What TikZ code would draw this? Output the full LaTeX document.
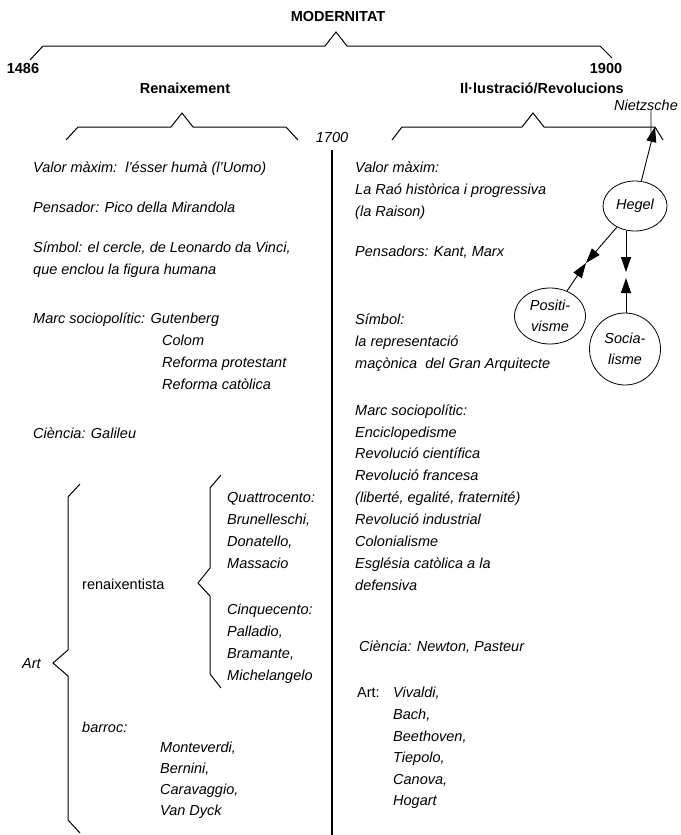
\documentclass[tikz,border=0pt]{standalone}
\usepackage{fontspec}
\setmainfont{Liberation Sans}
\usetikzlibrary{arrows.meta,shapes.geometric,calc}
\tikzset{
  base/.style={inner sep=0pt, font=\fontsize{14.5}{21}\selectfont},
  txt/.style={base, anchor=base west, font=\fontsize{14.5}{21}\selectfont\itshape},
  rom/.style={base, anchor=base west},
  hdr/.style={base, anchor=base, font=\fontsize{14.5}{21}\selectfont\bfseries},
  brace/.style={line width=1pt, line join=miter, line cap=butt},
  ell/.style={ellipse, draw, line width=0.8pt, inner sep=0pt, align=center,
     font=\fontsize{14.5}{21}\selectfont\itshape},
  arr/.style={line width=0.9pt, -{Triangle[length=15pt,width=10pt]}},
  vline/.style={line width=1.1pt}
}
\begin{document}
\begin{tikzpicture}[x=1pt,y=-1pt]
\fill[white] (0,0) rectangle (680,835);
\useasboundingbox (0,0) rectangle (680,835);

% headers
\node[hdr] (modern) at (338,21) {MODERNITAT};
\node[hdr] (y1486) at (23,73) {1486};
\node[hdr] (y1900) at (606,73) {1900};
\node[hdr] (renaix) at (185,93) {Renaixement};
\node[hdr] (illus) at (542,93) {Il·lustració/Revolucions};
\node[base, anchor=base, font=\fontsize{14.5}{21}\selectfont\itshape] (y1700) at (332,142) {1700};
\node[txt] (nietz) at (614,110) {Nietzsche};

% braces
\draw[brace] (30,60) -- (43,46) -- (325,46) -- (336,32) -- (347,46) -- (600,46) -- (612,58);
\draw[brace] (66,140) -- (78,127) -- (171,127) -- (182,113) -- (193,127) -- (286,127) -- (298,140);
\coordinate (nz) at (655,127);
\draw[brace] (392,140) -- (402,127) -- (522,127) -- (533,113) -- (544,127) -- (nz) -- (663,140);
\coordinate (nzb) at (651,139);
\draw[line width=0.8pt] ([xshift=5pt]nietz.south) -- (nzb);

% divider
\coordinate (dtop) at (332,150);
\coordinate (dbot) at (332,835);
\draw[vline] (dtop) -- (dbot);

% left column
\node[txt] (l1) at (33,172) {Valor màxim:\ \ l'ésser humà (l'Uomo)};
\node[txt] (l2) at (33,212) {Pensador: Pico della Mirandola};
\node[txt] (l3) at (33,252) {Símbol: el cercle, de Leonardo da Vinci,};
\node[txt] (l4) at (33,274) {que enclou la figura humana};
\node[txt] (l5) at (33,323) {Marc sociopolític: Gutenberg};
\node[txt] (l6) at (162,345) {Colom};
\node[txt] (l7) at (162,367) {Reforma protestant};
\node[txt] (l8) at (162,389) {Reforma catòlica};
\node[txt] (l9) at (33,438) {Ciència: Galileu};

% Art braces
\draw[brace] (80,484) -- (68,497) -- (68,650) -- (53,663) -- (68,676) -- (68,820) -- (80,833);
\draw[brace] (221,475) -- (210,488) -- (210,568) -- (198,583) -- (210,596) -- (210,674) -- (221,688);
\node[txt] (art) at (22,668) {Art};
\node[rom] (renx) at (82,589) {renaixentista};
\node[txt] (q0) at (227,502) {Quattrocento:};
\node[txt] (q1) at (227,524) {Brunelleschi,};
\node[txt] (q2) at (227,546) {Donatello,};
\node[txt] (q3) at (227,568) {Massacio};
\node[txt] (c0) at (227,614) {Cinquecento:};
\node[txt] (c1) at (227,636) {Palladio,};
\node[txt] (c2) at (227,658) {Bramante,};
\node[txt] (c3) at (227,680) {Michelangelo};
\node[txt] (barr) at (82,732) {barroc:};
\node[txt] (b1) at (160,752) {Monteverdi,};
\node[txt] (b2) at (160,773) {Bernini,};
\node[txt] (b3) at (160,794) {Caravaggio,};
\node[txt] (b4) at (160,815) {Van Dyck};

% right column
\node[txt] (r1) at (355,172) {Valor màxim:};
\node[txt] (r2) at (355,194) {La Raó històrica i progressiva};
\node[txt] (r3) at (355,216) {(la Raison)};
\node[txt] (r4) at (355,256) {Pensadors: Kant, Marx};
\node[txt] (r5) at (355,324) {Símbol:};
\node[txt] (r6) at (355,346) {la representació};
\node[txt] (r7) at (355,368) {maçònica\ \ del Gran Arquitecte};
\node[txt] (r8) at (355,415) {Marc sociopolític:};
\node[txt] (r9) at (355,437) {Enciclopedisme};
\node[txt] (r10) at (355,458) {Revolució científica};
\node[txt] (r11) at (355,480) {Revolució francesa};
\node[txt] (r12) at (355,502) {(liberté, egalité, fraternité)};
\node[txt] (r13) at (355,524) {Revolució industrial};
\node[txt] (r14) at (355,546) {Colonialisme};
\node[txt] (r15) at (355,568) {Església catòlica a la};
\node[txt] (r16) at (355,590) {defensiva};
\node[txt] (r17) at (359,651) {Ciència: Newton, Pasteur};
\node[rom] (rart) at (357,697) {Art:};
\node[txt] (a1) at (393,697) {Vivaldi,};
\node[txt] (a2) at (393,719) {Bach,};
\node[txt] (a3) at (393,741) {Beethoven,};
\node[txt] (a4) at (393,762) {Tiepolo,};
\node[txt] (a5) at (393,784) {Canova,};
\node[txt] (a6) at (393,805) {Hogart};

% ellipses
\node[ell, minimum width=64pt, minimum height=50pt] (hegel) at (635,206) {Hegel};
\node[ell, minimum width=71pt, minimum height=56pt] (posit) at (550,316) {Positi-\\visme};
\node[ell, minimum width=71pt, minimum height=72pt] (socia) at (625,349) {Socia-\\lisme};

% arrows
\draw[arr] (hegel) -- (nz);
\coordinate (m1) at (586,263);
\draw[arr] (hegel) -- (m1);
\draw[arr] (posit) -- (m1);
\coordinate (m2a) at (626,272);
\coordinate (m2b) at (626,278);
\draw[arr] (m2a |- hegel.south) -- (m2a);
\draw[arr] (m2b |- socia.north) -- (m2b);
\end{tikzpicture}
\end{document}
